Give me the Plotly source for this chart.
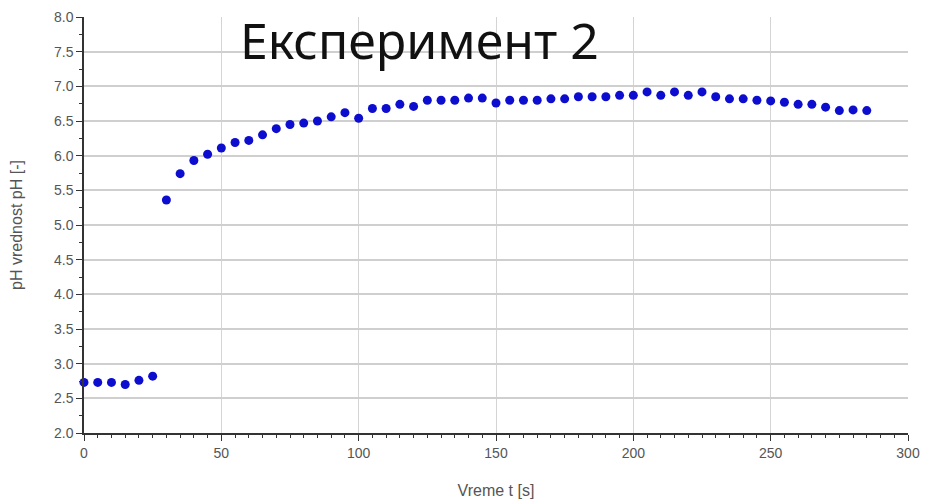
import plotly.graph_objects as go

time_s = [0, 5, 10, 15, 20, 25, 30, 35, 40, 45, 50, 55, 60, 65, 70, 75, 80, 85, 90, 95,
          100, 105, 110, 115, 120, 125, 130, 135, 140, 145, 150, 155, 160, 165, 170, 175,
          180, 185, 190, 195, 200, 205, 210, 215, 220, 225, 230, 235, 240, 245, 250, 255,
          260, 265, 270, 275, 280, 285]
ph_values = [2.73, 2.73, 2.73, 2.70, 2.76, 2.82, 5.36, 5.74, 5.93, 6.02, 6.11, 6.19, 6.22,
             6.30, 6.39, 6.45, 6.47, 6.50, 6.56, 6.62, 6.54, 6.68, 6.68, 6.74, 6.71, 6.80,
             6.80, 6.80, 6.83, 6.83, 6.76, 6.80, 6.80, 6.80, 6.82, 6.82, 6.85, 6.85, 6.85,
             6.87, 6.87, 6.92, 6.87, 6.92, 6.87, 6.92, 6.85, 6.82, 6.82, 6.80, 6.79, 6.77,
             6.74, 6.74, 6.70, 6.65, 6.66, 6.65]

x_ticks = [0, 50, 100, 150, 200, 250, 300]
y_ticks = [2.0, 2.5, 3.0, 3.5, 4.0, 4.5, 5.0, 5.5, 6.0, 6.5, 7.0, 7.5, 8.0]

title_text = "Експеримент 2"
x_title = "Vreme t [s]"
y_title = "pH vrednost pH [-]"

fig = go.Figure()
fig.add_trace(go.Scatter(
    x=time_s, y=ph_values, mode="markers",
    marker=dict(size=9, color="#0d0dd0", line=dict(width=0)),
    showlegend=False, cliponaxis=False,
))

axis_font = dict(family="Liberation Sans, Arial, sans-serif", size=14, color="#555555")
title_font = dict(family="Liberation Sans, Arial, sans-serif", size=16, color="#555555")

fig.update_layout(
    width=928, height=502,
    margin=dict(l=76, r=28, t=9, b=77),
    paper_bgcolor="white", plot_bgcolor="white",
    font=axis_font,
    xaxis=dict(
        range=[0, 300], tickvals=x_ticks, ticktext=[str(v) for v in x_ticks],
        showgrid=True, gridcolor="#d4d4d4", gridwidth=1,
        showline=True, linecolor="#333333", linewidth=1.5,
        ticks="outside", ticklen=6, tickwidth=1.2, tickcolor="#333333",
        minor=dict(dtick=5, ticks="outside", ticklen=3, tickcolor="#333333", showgrid=False),
        zeroline=False, tickfont=axis_font, automargin=False,
        title=dict(text=x_title, font=title_font, standoff=25),
    ),
    yaxis=dict(
        range=[2.0, 8.0], tickvals=y_ticks, ticktext=[f"{v:.1f}" for v in y_ticks],
        showgrid=True, gridcolor="#cfcfcf", gridwidth=1.5,
        showline=True, linecolor="#333333", linewidth=1.5,
        ticks="outside", ticklen=6, tickwidth=1.2, tickcolor="#333333",
        minor=dict(dtick=0.25, ticks="outside", ticklen=3, tickcolor="#333333", showgrid=False),
        zeroline=False, tickfont=axis_font, automargin=False,
        title=dict(text=y_title, font=title_font, standoff=40),
    ),
)

fig.add_annotation(
    text=title_text, xref="paper", yref="paper",
    x=(419 - 84) / 824, y=(433 - 40) / 416,
    xanchor="center", yanchor="middle", showarrow=False,
    font=dict(family="Noto Sans, sans-serif", size=50, color="#111111"),
)

fig.write_html("out.html")
